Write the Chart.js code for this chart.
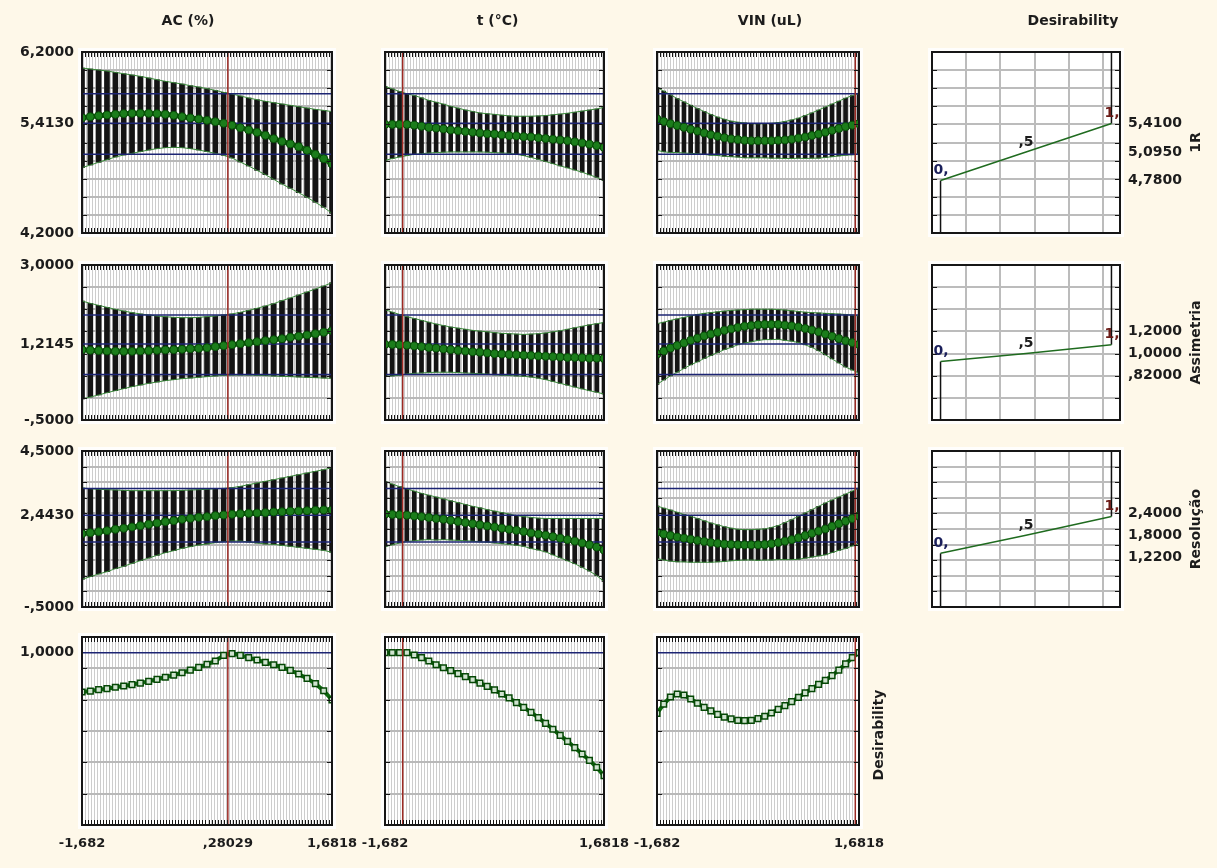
<!DOCTYPE html>
<html>
<head>
<meta charset="utf-8">
<script src="https://cdn.jsdelivr.net/npm/chart.js@4.4.1/dist/chart.umd.min.js"></script>
<style>
  body { margin: 0; background: #fef8e9; }
  #wrap { position: relative; width: 1217px; height: 868px; overflow: hidden; }
  #wrap canvas { position: absolute; left: 0; top: 0; }
</style>
</head>
<body>
<div id="wrap"></div>
<script>
// factor grid (coded levels) shared by all profile panels
const factorLevels = [-1.682, -1.570, -1.458, -1.346, -1.233, -1.121, -1.009, -0.897, -0.785, -0.673, -0.561,
  -0.448, -0.336, -0.224, -0.112, 0.000, 0.112, 0.224, 0.336, 0.448, 0.561, 0.673, 0.785, 0.897, 1.009,
  1.121, 1.233, 1.346, 1.458, 1.570, 1.682];
const xMin = -1.682, xMax = 1.6818;

const factorNames = ['AC (%)', 't (°C)', 'VIN (uL)'];
const responseNames = ['1R', 'Assimetria', 'Resolução', 'Desirability'];
const currentLevels = [0.28029, -1.41, 1.62];
const xTickValues = [[-1.682, 0.28029, 1.6818], [-1.682, 1.6818], [-1.682, 1.6818]];
const xTickLabels = [['-1,682', ',28029', '1,6818'], ['-1,682', '1,6818'], ['-1,682', '1,6818']];

const yRanges = [[4.2, 6.2, 0.2], [-0.5, 3.0, 0.5], [-0.5, 4.5, 0.5], [-0.1, 1.1, 0.2]];
const yTickValues = [[4.2, 5.413, 6.2], [-0.5, 1.2145, 3.0], [-0.5, 2.443, 4.5], [1.0]];
const yTickLabels = [['4,2000', '5,4130', '6,2000'], ['-,5000', '1,2145', '3,0000'], ['-,5000', '2,4430', '4,5000'], ['1,0000']];
const currentLimits = [[5.07, 5.413, 5.74], [0.53, 1.2145, 1.87], [1.58, 2.443, 3.30], [1.0]];

// 1R
const pred1R_AC = [5.474, 5.485, 5.496, 5.504, 5.511, 5.519, 5.522, 5.522, 5.522, 5.519, 5.511, 5.500, 5.485, 5.471, 5.460, 5.445, 5.430, 5.412, 5.390, 5.364, 5.338, 5.312, 5.279, 5.242, 5.212, 5.184, 5.154, 5.113, 5.069, 5.021, 4.962];
const hi1R_AC = [6.023, 6.012, 6.001, 5.990, 5.975, 5.960, 5.946, 5.931, 5.913, 5.894, 5.876, 5.861, 5.846, 5.828, 5.813, 5.795, 5.776, 5.754, 5.736, 5.714, 5.692, 5.673, 5.655, 5.640, 5.625, 5.611, 5.596, 5.581, 5.566, 5.555, 5.541];
const lo1R_AC = [4.922, 4.951, 4.981, 5.010, 5.040, 5.062, 5.080, 5.099, 5.117, 5.132, 5.143, 5.147, 5.143, 5.132, 5.117, 5.099, 5.080, 5.058, 5.029, 4.984, 4.940, 4.892, 4.845, 4.793, 4.741, 4.694, 4.646, 4.594, 4.539, 4.484, 4.417];
const pred1R_t = [5.400, 5.400, 5.400, 5.400, 5.391, 5.379, 5.367, 5.359, 5.350, 5.338, 5.330, 5.322, 5.314, 5.305, 5.297, 5.293, 5.285, 5.276, 5.273, 5.264, 5.261, 5.252, 5.244, 5.235, 5.228, 5.220, 5.207, 5.195, 5.182, 5.166, 5.146];
const hi1R_t = [5.821, 5.792, 5.764, 5.739, 5.719, 5.694, 5.665, 5.645, 5.624, 5.600, 5.580, 5.559, 5.543, 5.526, 5.518, 5.511, 5.502, 5.494, 5.490, 5.490, 5.490, 5.494, 5.497, 5.506, 5.514, 5.523, 5.535, 5.547, 5.559, 5.571, 5.588];
const lo1R_t = [5.002, 5.023, 5.040, 5.055, 5.069, 5.076, 5.084, 5.088, 5.093, 5.096, 5.096, 5.096, 5.096, 5.096, 5.093, 5.088, 5.084, 5.081, 5.069, 5.055, 5.035, 5.014, 4.990, 4.966, 4.941, 4.920, 4.896, 4.872, 4.843, 4.814, 4.778];
const pred1R_VIN = [5.461, 5.432, 5.408, 5.387, 5.367, 5.346, 5.326, 5.305, 5.285, 5.269, 5.252, 5.240, 5.232, 5.224, 5.220, 5.220, 5.220, 5.220, 5.224, 5.228, 5.236, 5.248, 5.260, 5.277, 5.293, 5.314, 5.334, 5.355, 5.375, 5.391, 5.408];
const hi1R_VIN = [5.809, 5.768, 5.727, 5.686, 5.649, 5.612, 5.576, 5.543, 5.510, 5.481, 5.457, 5.436, 5.424, 5.416, 5.408, 5.408, 5.408, 5.412, 5.420, 5.432, 5.449, 5.469, 5.498, 5.527, 5.559, 5.592, 5.625, 5.657, 5.690, 5.719, 5.743];
const lo1R_VIN = [5.113, 5.097, 5.089, 5.089, 5.084, 5.080, 5.076, 5.068, 5.060, 5.056, 5.048, 5.043, 5.039, 5.031, 5.031, 5.031, 5.031, 5.027, 5.027, 5.023, 5.023, 5.027, 5.023, 5.027, 5.027, 5.035, 5.043, 5.052, 5.060, 5.064, 5.072];

// Assimetria
const predAs_AC = [1.088, 1.073, 1.066, 1.058, 1.050, 1.050, 1.050, 1.058, 1.066, 1.073, 1.081, 1.088, 1.096, 1.111, 1.118, 1.133, 1.156, 1.178, 1.201, 1.224, 1.246, 1.269, 1.291, 1.314, 1.337, 1.367, 1.389, 1.419, 1.449, 1.480, 1.517];
const hiAs_AC = [2.187, 2.134, 2.089, 2.044, 1.999, 1.961, 1.924, 1.894, 1.871, 1.848, 1.833, 1.818, 1.811, 1.811, 1.818, 1.833, 1.848, 1.871, 1.894, 1.931, 1.976, 2.022, 2.074, 2.127, 2.195, 2.255, 2.323, 2.390, 2.458, 2.526, 2.601];
const loAs_AC = [-0.026, 0.019, 0.065, 0.117, 0.162, 0.208, 0.253, 0.290, 0.328, 0.358, 0.388, 0.411, 0.433, 0.448, 0.463, 0.479, 0.494, 0.509, 0.516, 0.516, 0.516, 0.509, 0.501, 0.494, 0.486, 0.479, 0.471, 0.463, 0.456, 0.448, 0.441];
const predAs_t = [1.206, 1.206, 1.198, 1.189, 1.173, 1.156, 1.139, 1.123, 1.106, 1.089, 1.072, 1.056, 1.039, 1.031, 1.014, 0.997, 0.989, 0.980, 0.972, 0.964, 0.955, 0.947, 0.939, 0.930, 0.922, 0.913, 0.913, 0.905, 0.897, 0.897, 0.888];
const hiAs_t = [1.992, 1.934, 1.884, 1.833, 1.792, 1.750, 1.708, 1.666, 1.633, 1.599, 1.574, 1.549, 1.524, 1.507, 1.491, 1.474, 1.457, 1.449, 1.440, 1.432, 1.440, 1.449, 1.465, 1.491, 1.516, 1.549, 1.583, 1.616, 1.649, 1.675, 1.700];
const loAs_t = [0.487, 0.495, 0.512, 0.537, 0.554, 0.562, 0.571, 0.579, 0.579, 0.579, 0.571, 0.562, 0.554, 0.546, 0.537, 0.520, 0.512, 0.504, 0.495, 0.487, 0.470, 0.445, 0.412, 0.370, 0.328, 0.286, 0.244, 0.203, 0.161, 0.127, 0.086];
const predAs_VIN = [0.989, 1.056, 1.123, 1.181, 1.240, 1.298, 1.348, 1.399, 1.440, 1.482, 1.524, 1.557, 1.591, 1.616, 1.633, 1.649, 1.658, 1.658, 1.658, 1.641, 1.624, 1.599, 1.566, 1.532, 1.491, 1.440, 1.390, 1.340, 1.290, 1.248, 1.206];
const hiAs_VIN = [1.675, 1.708, 1.750, 1.783, 1.817, 1.850, 1.884, 1.909, 1.925, 1.942, 1.959, 1.976, 1.984, 1.992, 2.001, 2.001, 2.001, 2.001, 1.992, 1.984, 1.967, 1.951, 1.934, 1.925, 1.917, 1.909, 1.900, 1.892, 1.884, 1.867, 1.850];
const loAs_VIN = [0.303, 0.403, 0.495, 0.579, 0.663, 0.746, 0.813, 0.888, 0.955, 1.022, 1.089, 1.139, 1.198, 1.240, 1.265, 1.298, 1.315, 1.315, 1.323, 1.298, 1.281, 1.248, 1.198, 1.139, 1.064, 0.972, 0.880, 0.788, 0.696, 0.629, 0.562];

// Resolução
const predRs_AC = [1.850, 1.882, 1.914, 1.946, 1.989, 2.021, 2.064, 2.107, 2.149, 2.192, 2.235, 2.267, 2.310, 2.342, 2.374, 2.395, 2.427, 2.449, 2.470, 2.491, 2.502, 2.513, 2.523, 2.545, 2.555, 2.566, 2.577, 2.587, 2.598, 2.609, 2.609];
const hiRs_AC = [3.314, 3.293, 3.271, 3.261, 3.250, 3.239, 3.228, 3.228, 3.228, 3.228, 3.228, 3.228, 3.239, 3.250, 3.261, 3.271, 3.293, 3.303, 3.325, 3.367, 3.421, 3.474, 3.528, 3.581, 3.634, 3.688, 3.741, 3.795, 3.848, 3.902, 3.966];
const loRs_AC = [0.387, 0.472, 0.558, 0.632, 0.728, 0.803, 0.899, 0.985, 1.070, 1.156, 1.241, 1.305, 1.380, 1.434, 1.487, 1.519, 1.562, 1.594, 1.615, 1.615, 1.583, 1.551, 1.519, 1.508, 1.476, 1.444, 1.412, 1.380, 1.348, 1.316, 1.252];
const predRs_t = [2.478, 2.466, 2.454, 2.442, 2.419, 2.395, 2.371, 2.336, 2.312, 2.276, 2.241, 2.205, 2.169, 2.134, 2.098, 2.063, 2.027, 1.991, 1.956, 1.920, 1.873, 1.837, 1.801, 1.754, 1.706, 1.659, 1.611, 1.552, 1.493, 1.422, 1.327];
const hiRs_t = [3.523, 3.440, 3.357, 3.285, 3.214, 3.143, 3.083, 3.024, 2.965, 2.905, 2.846, 2.787, 2.727, 2.680, 2.620, 2.573, 2.526, 2.478, 2.431, 2.395, 2.371, 2.347, 2.336, 2.336, 2.336, 2.336, 2.336, 2.336, 2.336, 2.336, 2.336];
const loRs_t = [1.433, 1.493, 1.552, 1.600, 1.623, 1.647, 1.659, 1.647, 1.659, 1.647, 1.635, 1.623, 1.611, 1.588, 1.576, 1.552, 1.528, 1.505, 1.481, 1.445, 1.374, 1.327, 1.267, 1.172, 1.077, 0.982, 0.887, 0.769, 0.650, 0.507, 0.317];
const predRs_VIN = [1.896, 1.837, 1.790, 1.742, 1.706, 1.671, 1.635, 1.600, 1.564, 1.540, 1.516, 1.505, 1.493, 1.493, 1.493, 1.493, 1.505, 1.528, 1.564, 1.611, 1.659, 1.718, 1.790, 1.861, 1.932, 2.003, 2.086, 2.169, 2.252, 2.336, 2.419];
const hiRs_VIN = [2.739, 2.668, 2.609, 2.537, 2.466, 2.407, 2.336, 2.264, 2.193, 2.134, 2.074, 2.027, 1.991, 1.979, 1.979, 1.991, 2.003, 2.051, 2.110, 2.205, 2.300, 2.407, 2.514, 2.620, 2.727, 2.834, 2.929, 3.024, 3.119, 3.214, 3.309];
const loRs_VIN = [1.054, 1.006, 0.970, 0.947, 0.947, 0.935, 0.935, 0.935, 0.935, 0.947, 0.959, 0.982, 0.994, 1.006, 1.006, 0.994, 1.006, 1.006, 1.018, 1.018, 1.018, 1.030, 1.065, 1.101, 1.137, 1.172, 1.243, 1.315, 1.374, 1.457, 1.528];

// overall desirability
const desir_AC = [0.749, 0.755, 0.764, 0.770, 0.779, 0.787, 0.796, 0.806, 0.817, 0.830, 0.843, 0.857, 0.872, 0.889, 0.906, 0.926, 0.947, 0.983, 0.994, 0.983, 0.968, 0.953, 0.938, 0.923, 0.906, 0.887, 0.864, 0.836, 0.802, 0.757, 0.698];
const desir_t = [1.000, 1.000, 1.000, 1.000, 0.985, 0.968, 0.947, 0.923, 0.904, 0.885, 0.866, 0.847, 0.828, 0.806, 0.785, 0.762, 0.736, 0.711, 0.681, 0.651, 0.619, 0.585, 0.549, 0.511, 0.472, 0.434, 0.394, 0.353, 0.313, 0.268, 0.215];
const desir_VIN = [0.613, 0.672, 0.717, 0.736, 0.730, 0.704, 0.677, 0.651, 0.628, 0.606, 0.589, 0.577, 0.568, 0.566, 0.568, 0.579, 0.594, 0.615, 0.638, 0.662, 0.687, 0.715, 0.743, 0.770, 0.798, 0.823, 0.853, 0.889, 0.928, 0.968, 1.000];

// desirability functions of each response
const desLevels = [0, 0.5, 1];
const desLevelLabels = ['0,', ',5', '1,'];
const desResponse = [[4.78, 5.095, 5.41], [0.82, 1.0, 1.2], [1.22, 1.8, 2.4]];
const desResponseLabels = [['4,7800', '5,0950', '5,4100'], [',82000', '1,0000', '1,2000'], ['1,2200', '1,8000', '2,4000']];
const desGridX = [0.15, 0.35, 0.55, 0.75, 0.95];
const desRangeX = [-0.05, 1.05];

// page layout
const W = 1217, H = 868;
const colBox = [[82, 332], [385, 604], [657, 859], [932, 1120]];
const rowBox = [[52, 233], [265, 420], [451, 607], [637, 825]];
const titleDx = [-19, 3, 12, 47];
const barWidth = [5, 4, 4];

const C = {
  frame: '#161616', gridV: '#cdcdcd', gridH: '#b9b9b9', gridDes: '#bcbcbc',
  bar: '#141414', green: '#0d6a0d', greenDark: '#064806', ci: '#3a8a3a',
  blue: '#1c2473', red: '#9c2a24', text: '#1c1c1c'
};
const FAMILY = '"DejaVu Sans", Verdana, sans-serif';
const FONT = { family: FAMILY, size: 14, weight: 'bold' };
const FONT_X = { family: FAMILY, size: 13, weight: 'bold' };
const FONT_CSS = 'bold 14px ' + FAMILY;

const panels = [
  [[pred1R_AC, lo1R_AC, hi1R_AC], [pred1R_t, lo1R_t, hi1R_t], [pred1R_VIN, lo1R_VIN, hi1R_VIN]],
  [[predAs_AC, loAs_AC, hiAs_AC], [predAs_t, loAs_t, hiAs_t], [predAs_VIN, loAs_VIN, hiAs_VIN]],
  [[predRs_AC, loRs_AC, hiRs_AC], [predRs_t, loRs_t, hiRs_t], [predRs_VIN, loRs_VIN, hiRs_VIN]],
  [[desir_AC], [desir_t], [desir_VIN]]
];

function fixSize(n) {
  return s => {
    if (s.isHorizontal()) s.height = n; else s.width = n;
    s.paddingTop = s.paddingBottom = s.paddingLeft = s.paddingRight = 0;
  };
}

function denseTicks(a, b, n) {
  const out = [];
  for (let i = 0; i <= n; i++) out.push({ value: a + (b - a) * i / n });
  return out;
}

function drawText(ctx, t) {
  ctx.save();
  ctx.font = FONT_CSS;
  ctx.fillStyle = t.color || C.text;
  ctx.textAlign = t.align || 'center';
  ctx.textBaseline = t.baseline || 'middle';
  ctx.translate(t.x, t.y);
  if (t.rot) ctx.rotate(t.rot);
  ctx.fillText(t.text, 0, 0);
  ctx.restore();
}

const panelDecor = {
  id: 'panelDecor',
  beforeDraw(chart) {
    const a = chart.chartArea, ctx = chart.ctx;
    ctx.save();
    ctx.fillStyle = 'rgba(255,255,255,0.85)';
    ctx.fillRect(a.left - 4, a.top - 4, a.width + 8, a.height + 8);
    ctx.fillStyle = '#ffffff';
    ctx.fillRect(a.left, a.top, a.width, a.height);
    ctx.restore();
  },
  afterDatasetsDraw(chart) {
    const d = chart.canvas.decor;
    const a = chart.chartArea, ctx = chart.ctx;
    const xs = chart.scales.x, ys = chart.scales.y;
    ctx.save();
    ctx.strokeStyle = C.frame;
    ctx.lineWidth = 1;
    ctx.beginPath();
    if (d.edgeX) {
      xs.ticks.forEach(t => {
        const px = Math.round(xs.getPixelForValue(t.value)) + 0.5;
        ctx.moveTo(px, a.top); ctx.lineTo(px, a.top + 5);
        ctx.moveTo(px, a.bottom); ctx.lineTo(px, a.bottom - 5);
      });
    }
    ys.ticks.forEach(t => {
      const py = Math.round(ys.getPixelForValue(t.value)) + 0.5;
      ctx.moveTo(a.left, py); ctx.lineTo(a.left + 5, py);
      ctx.moveTo(a.right, py); ctx.lineTo(a.right - 5, py);
    });
    ctx.stroke();
    ctx.lineWidth = 2;
    ctx.strokeRect(a.left, a.top, a.width, a.height);
    ctx.restore();
  },
  afterDraw(chart) {
    const d = chart.canvas.decor;
    const a = chart.chartArea, ctx = chart.ctx;
    d.texts.forEach(t => drawText(ctx, t));
    if (d.des == null) return;
    const r = d.des, xs = chart.scales.x, ys = chart.scales.y;
    const colors = ['#1a1f5a', C.text, '#6b1b17'];
    desLevels.forEach((lv, i) => {
      const px = xs.getPixelForValue(lv), py = ys.getPixelForValue(desResponse[r][i]);
      drawText(ctx, { text: desLevelLabels[i], x: i === 1 ? px : px - 7, y: py - 3,
        align: i === 1 ? 'center' : 'left', baseline: 'bottom', color: colors[i] });
    });
    // right-hand labels, pushed apart when they would overlap
    const p = desResponse[r].map(v => ys.getPixelForValue(v));
    const pos = [Math.max(p[0], p[1] + 22), p[1], Math.min(p[2], p[1] - 22)];
    desResponseLabels[r].forEach((s, i) => drawText(ctx, { text: s, x: a.right + 8, y: pos[i], align: 'left' }));
  }
};

const wrap = document.getElementById('wrap');

function makeChart(r, c, datasets, scales, decor, labelLeft, labelBottom) {
  const cv = document.createElement('canvas');
  cv.width = W; cv.height = H;
  cv.decor = decor;
  wrap.appendChild(cv);
  return new Chart(cv, {
    type: 'line',
    data: { datasets },
    options: {
      responsive: false, animation: false, devicePixelRatio: 1, events: [],
      layout: {
        autoPadding: false,
        padding: {
          left: colBox[c][0] - (labelLeft ? 80 : 0),
          right: W - colBox[c][1],
          top: rowBox[r][0],
          bottom: H - rowBox[r][1] - (labelBottom ? 30 : 0)
        }
      },
      elements: { line: { tension: 0 } },
      plugins: { legend: { display: false }, tooltip: { enabled: false } },
      scales
    },
    plugins: [panelDecor]
  });
}

function gridScales(r, xLo, xHi, xTicks, des) {
  const [yMin, yMax, yStep] = yRanges[r];
  return {
    x: {
      type: 'linear', min: xLo, max: xHi, offset: false,
      grid: { color: des ? C.gridDes : C.gridV, lineWidth: des ? 2 : 1, drawTicks: false },
      border: { display: false }, ticks: { display: false },
      afterBuildTicks: s => { s.ticks = xTicks; },
      afterFit: fixSize(0)
    },
    y: {
      type: 'linear', min: yMin, max: yMax,
      grid: { color: des ? C.gridDes : C.gridH, lineWidth: 2, drawTicks: false },
      border: { display: false }, ticks: { display: false, stepSize: yStep },
      afterFit: fixSize(0)
    }
  };
}

// profile panels
for (let r = 0; r < 4; r++) {
  for (let c = 0; c < 3; c++) {
    const [pred, lo, hi] = panels[r][c];
    const [yMin, yMax] = yRanges[r];
    const cur = currentLevels[c];
    const datasets = [
      { data: [{ x: cur, y: yMin }, { x: cur, y: yMax }], borderColor: C.red, borderWidth: 1.5, pointRadius: 0, order: 0 },
      { data: factorLevels.map((x, i) => ({ x, y: pred[i] })), borderColor: C.green, borderWidth: r < 3 ? 5 : 4,
        pointStyle: r < 3 ? 'circle' : 'rect', pointRadius: 4,
        pointBackgroundColor: r < 3 ? '#1b7d1b' : '#cfe3cf', pointBorderColor: C.greenDark,
        pointBorderWidth: r < 3 ? 1 : 1.5, order: 1 }
    ];
    currentLimits[r].forEach(v => datasets.push({
      data: [{ x: xMin, y: v }, { x: xMax, y: v }], borderColor: C.blue, borderWidth: 1.5, pointRadius: 0, order: 2
    }));
    if (hi) {
      datasets.push({ data: factorLevels.map((x, i) => ({ x, y: hi[i] })), borderColor: C.ci, borderWidth: 1, pointRadius: 0, order: 3 });
      datasets.push({ data: factorLevels.map((x, i) => ({ x, y: lo[i] })), borderColor: C.ci, borderWidth: 1, pointRadius: 0, order: 3 });
      datasets.push({ type: 'bar', data: factorLevels.map((x, i) => ({ x, y: [lo[i], hi[i]] })),
        backgroundColor: C.bar, barThickness: barWidth[c], order: 4 });
    }
    const n = Math.round((colBox[c][1] - colBox[c][0]) / 3);
    const scales = gridScales(r, xMin, xMax, denseTicks(xMin, xMax, n), false);
    const labelLeft = c === 0, labelBottom = r === 3;
    if (labelLeft) {
      scales.yl = {
        type: 'linear', position: 'left', min: yMin, max: yMax,
        grid: { display: false, drawTicks: false }, border: { display: false },
        ticks: { autoSkip: false, padding: 8, color: C.text, font: FONT, callback: (v, i) => yTickLabels[r][i] },
        afterBuildTicks: s => { s.ticks = yTickValues[r].map(v => ({ value: v })); },
        afterFit: fixSize(80)
      };
    }
    if (labelBottom) {
      scales.xl = {
        type: 'linear', position: 'bottom', min: xMin, max: xMax,
        grid: { display: false, drawTicks: false }, border: { display: false },
        ticks: { autoSkip: false, padding: 11, maxRotation: 0, minRotation: 0, color: C.text, font: FONT_X,
          callback: (v, i) => xTickLabels[c][i] },
        afterBuildTicks: s => { s.ticks = xTickValues[c].map(v => ({ value: v })); },
        afterFit: fixSize(30)
      };
    }
    const texts = [];
    if (r === 0) {
      texts.push({ text: factorNames[c], x: (colBox[c][0] + colBox[c][1]) / 2 + titleDx[c], y: 21 });
    }
    if (r === 3 && c === 2) {
      texts.push({ text: responseNames[3], x: colBox[c][1] + 20, y: (rowBox[r][0] + rowBox[r][1]) / 2 + 4, rot: -Math.PI / 2 });
    }
    makeChart(r, c, datasets, scales, { edgeX: true, texts, des: null }, labelLeft, labelBottom);
  }
}

// desirability function panels
for (let r = 0; r < 3; r++) {
  const [yMin, yMax] = yRanges[r];
  const resp = desResponse[r];
  const datasets = [
    { data: desLevels.map((d, i) => ({ x: d, y: resp[i] })), borderColor: '#1f6b1f', borderWidth: 1.5, pointRadius: 0, order: 0 },
    { data: [{ x: desLevels[0], y: yMin }, { x: desLevels[0], y: resp[0] }], borderColor: '#111', borderWidth: 1.5, pointRadius: 0, order: 1 },
    { data: [{ x: desLevels[2], y: resp[2] }, { x: desLevels[2], y: yMax }], borderColor: '#111', borderWidth: 1.5, pointRadius: 0, order: 1 }
  ];
  const scales = gridScales(r, desRangeX[0], desRangeX[1], desGridX.map(v => ({ value: v })), true);
  const texts = [{ text: responseNames[r], x: colBox[3][1] + 76, y: (rowBox[r][0] + rowBox[r][1]) / 2, rot: -Math.PI / 2 }];
  if (r === 0) texts.push({ text: 'Desirability', x: (colBox[3][0] + colBox[3][1]) / 2 + titleDx[3], y: 21 });
  makeChart(r, 3, datasets, scales, { edgeX: false, texts, des: r }, false, false);
}
</script>
</body>
</html>
